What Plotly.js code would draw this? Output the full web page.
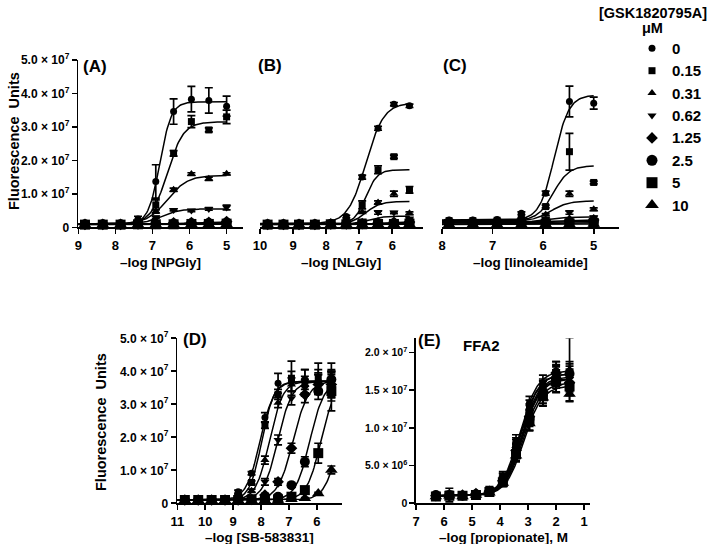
<!DOCTYPE html>
<html><head><meta charset="utf-8">
<script src="https://cdn.plot.ly/plotly-3.0.1.min.js"></script>
<style>html,body{margin:0;padding:0;background:#fff}#chart{width:709px;height:544px}</style>
</head><body><div id="chart"></div>
<script>
// ---------- data ----------
const conc = ['0','0.15','0.31','0.62','1.25','2.5','5','10'];

const xA = [8.82,8.34,7.86,7.39,6.91,6.43,5.95,5.48,5.0];
const yA = [
 [1.0e6,1.0e6,1.1e6,2.5e6,1.37e7,3.46e7,3.83e7,3.79e7,3.62e7],
 [0.9e6,1.0e6,1.0e6,1.6e6,6.7e6,2.21e7,3.16e7,2.91e7,3.3e7],
 [0.9e6,0.9e6,1.0e6,1.4e6,4.8e6,1.12e7,1.59e7,1.45e7,1.6e7],
 [0.9e6,0.9e6,1.0e6,1.2e6,3.0e6,5.2e6,5.0e6,5.5e6,5.9e6],
 [0.9e6,0.9e6,0.9e6,1.0e6,1.2e6,1.3e6,1.4e6,1.5e6,1.7e6],
 [0.9e6,0.9e6,0.9e6,1.0e6,1.0e6,1.1e6,1.2e6,1.3e6,1.4e6],
 [0.8e6,0.8e6,0.8e6,0.9e6,0.9e6,0.9e6,1.0e6,1.0e6,1.1e6],
 [0.8e6,0.8e6,0.8e6,0.8e6,0.8e6,0.8e6,0.9e6,0.9e6,0.9e6]
];
const errA = [
 [1e5,1e5,1e5,8e5,5.0e6,3.8e6,3.8e6,3.8e6,3.0e6],
 [1e5,1e5,1e5,3e5,1.5e6,8e5,1.8e6,6e5,2.0e6],
 [1e5,1e5,1e5,2e5,6e5,5e5,4e5,5e5,3e5],
 [1e5,1e5,1e5,1e5,3e5,3e5,3e5,4e5,7e5],
 [1e5,1e5,1e5,1e5,2e5,2e5,2e5,3e5,3e5],
 [1e5,1e5,1e5,1e5,1e5,2e5,2e5,2e5,3e5],
 [1e5,1e5,1e5,1e5,1e5,1e5,2e5,2e5,2e5],
 [1e5,1e5,1e5,1e5,1e5,1e5,1e5,1e5,2e5]
];
// fit parameters: [bottom, top, pEC50, hill]
const fitA = [
 [1.0e6,3.75e7,6.8,2.8],
 [1.0e6,3.15e7,6.6,2.0],
 [1.0e6,1.55e7,6.6,1.6],
 [1.0e6,5.5e6,6.75,1.8],
 [0.9e6,1.5e6,6.2,1.5],
 [0.9e6,1.3e6,6.2,1.5],
 [0.8e6,1.05e6,6.2,1.5],
 [0.8e6,0.9e6,6.2,1.5]
];

const xB = [9.77,9.29,8.82,8.34,7.86,7.39,6.91,6.43,5.95,5.48];
const yB = [
 [1.1e6,1.1e6,1.1e6,1.2e6,1.4e6,3.2e6,1.5e7,2.96e7,3.68e7,3.63e7],
 [1.0e6,1.0e6,1.0e6,1.0e6,1.2e6,1.8e6,6.7e6,1.72e7,2.11e7,1.12e7],
 [1.0e6,1.0e6,1.0e6,1.0e6,1.1e6,1.5e6,4.5e6,7.4e6,1.0e7,4.2e6],
 [0.9e6,0.9e6,0.9e6,1.0e6,1.0e6,1.2e6,2.0e6,4.4e6,4.4e6,2.6e6],
 [0.9e6,0.9e6,0.9e6,0.9e6,1.0e6,1.0e6,1.1e6,1.3e6,1.5e6,1.6e6],
 [0.9e6,0.9e6,0.9e6,0.9e6,0.9e6,1.0e6,1.0e6,1.1e6,1.2e6,1.3e6],
 [0.8e6,0.8e6,0.8e6,0.8e6,0.9e6,0.9e6,0.9e6,1.0e6,1.0e6,1.1e6],
 [0.8e6,0.8e6,0.8e6,0.8e6,0.8e6,0.8e6,0.8e6,0.9e6,0.9e6,0.9e6]
];
const errB = [
 [1e5,1e5,1e5,1e5,1e5,4e5,6e5,6e5,5e5,5e5],
 [1e5,1e5,1e5,1e5,1e5,2e5,1.2e6,1.2e6,5e5,1.0e6],
 [1e5,1e5,1e5,1e5,1e5,2e5,3e5,5e5,8e5,4e5],
 [1e5,1e5,1e5,1e5,1e5,1e5,2e5,5e5,3e5,2e5],
 [1e5,1e5,1e5,1e5,1e5,1e5,1e5,2e5,2e5,2e5],
 [1e5,1e5,1e5,1e5,1e5,1e5,1e5,1e5,2e5,2e5],
 [1e5,1e5,1e5,1e5,1e5,1e5,1e5,1e5,1e5,2e5],
 [1e5,1e5,1e5,1e5,1e5,1e5,1e5,1e5,1e5,1e5]
];
const fitB = [
 [1.1e6,3.72e7,6.8,1.6],
 [1.0e6,1.72e7,6.8,2.5],
 [1.0e6,7.7e6,6.8,2.0],
 [0.9e6,3.3e6,6.75,2.0],
 [0.9e6,1.6e6,6.3,1.5],
 [0.9e6,1.3e6,6.3,1.5],
 [0.8e6,1.05e6,6.3,1.5],
 [0.8e6,0.9e6,6.3,1.5]
];

const xC = [7.86,7.39,6.91,6.43,5.95,5.48,5.0];
const yC = [
 [2.2e6,2.2e6,2.3e6,4.2e6,1.02e7,3.76e7,3.71e7],
 [2.0e6,2.0e6,2.1e6,2.7e6,6.2e6,2.26e7,1.34e7],
 [1.8e6,1.8e6,1.8e6,2.3e6,3.8e6,1.0e7,5.4e6],
 [1.6e6,1.6e6,1.6e6,1.9e6,2.5e6,4.4e6,3.0e6],
 [1.5e6,1.5e6,1.5e6,1.6e6,1.8e6,2.0e6,2.2e6],
 [1.3e6,1.3e6,1.3e6,1.4e6,1.5e6,1.6e6,1.7e6],
 [1.0e6,1.0e6,1.0e6,1.1e6,1.1e6,1.2e6,1.3e6],
 [0.8e6,0.8e6,0.8e6,0.8e6,0.9e6,0.9e6,1.0e6]
];
const errC = [
 [1e5,1e5,1e5,4e5,6e5,4.6e6,1.8e6],
 [1e5,1e5,1e5,2e5,4e5,5.5e6,4e5],
 [1e5,1e5,1e5,1e5,3e5,8e5,4e5],
 [1e5,1e5,1e5,1e5,2e5,5e5,3e5],
 [1e5,1e5,1e5,1e5,1e5,2e5,2e5],
 [1e5,1e5,1e5,1e5,1e5,1e5,2e5],
 [1e5,1e5,1e5,1e5,1e5,1e5,1e5],
 [1e5,1e5,1e5,1e5,1e5,1e5,1e5]
];
const fitC = [
 [2.2e6,3.95e7,5.78,3.0],
 [2.0e6,1.84e7,5.8,2.8],
 [1.8e6,7.9e6,5.85,2.5],
 [1.6e6,3.1e6,5.9,2.5],
 [1.5e6,2.2e6,5.8,2.0],
 [1.3e6,1.8e6,5.8,2.0],
 [1.0e6,1.4e6,5.8,2.0],
 [0.8e6,1.0e6,5.8,2.0]
];

const xD = [10.73,10.25,9.77,9.29,8.82,8.34,7.86,7.39,6.91,6.43,5.95,5.48];
const yD = [
 [1.2e6,1.2e6,1.1e6,1.3e6,3.5e6,9.1e6,2.6e7,3.64e7,3.7e7,3.75e7,3.7e7,3.65e7],
 [1.1e6,1.2e6,1.2e6,1.2e6,2.3e6,6.3e6,2.37e7,3.3e7,3.79e7,3.7e7,3.8e7,3.7e7],
 [1.0e6,1.1e6,1.1e6,1.1e6,1.5e6,3.8e6,1.31e7,3.05e7,3.6e7,3.6e7,3.65e7,3.6e7],
 [1.0e6,1.0e6,1.0e6,1.0e6,1.2e6,2.0e6,6.5e6,1.92e7,3.18e7,3.5e7,3.6e7,3.5e7],
 [1.0e6,1.0e6,1.0e6,1.0e6,1.0e6,1.2e6,2.5e6,6.5e6,1.67e7,3.3e7,3.6e7,3.6e7],
 [1.0e6,1.0e6,1.0e6,1.0e6,1.0e6,1.0e6,1.2e6,2.0e6,5.5e6,1.26e7,3.4e7,3.75e7],
 [1.0e6,1.0e6,1.0e6,1.0e6,1.0e6,1.0e6,1.0e6,1.2e6,2.0e6,4.0e6,1.52e7,3.4e7],
 [0.9e6,0.9e6,0.9e6,0.9e6,0.9e6,0.9e6,0.9e6,1.0e6,1.2e6,1.5e6,3.0e6,1.01e7]
];
const errD = [
 [1e5,1e5,1e5,1e5,5e5,5e5,1.5e6,3e6,3e6,3e6,3.5e6,3e6],
 [1e5,1e5,1e5,1e5,3e5,5e5,1e6,1.5e6,5.2e6,3.5e6,4.5e6,3.5e6],
 [1e5,1e5,1e5,1e5,3e5,5e5,1.2e6,1.5e6,2e6,2.5e6,3e6,4e6],
 [1e5,1e5,1e5,1e5,2e5,5e5,1e6,1.5e6,2e6,2.5e6,3e6,4e6],
 [1e5,1e5,1e5,1e5,1e5,2e5,5e5,1e6,1.5e6,2.5e6,3e6,4e6],
 [1e5,1e5,1e5,1e5,1e5,1e5,2e5,3e5,5e5,1.5e6,2.5e6,5e6],
 [1e5,1e5,1e5,1e5,1e5,1e5,1e5,2e5,3e5,6e5,3e6,6e6],
 [1e5,1e5,1e5,1e5,1e5,1e5,1e5,1e5,2e5,2e5,3e5,1.2e6]
];
const fitD = [
 [1.0e6,3.7e7,8.03,1.75],
 [1.0e6,3.7e7,7.97,2.0],
 [1.0e6,3.7e7,7.7,1.8],
 [1.0e6,3.7e7,7.4,1.7],
 [1.0e6,3.7e7,6.85,1.6],
 [1.0e6,3.7e7,6.25,1.7],
 [1.0e6,3.7e7,5.85,1.7],
 [1.0e6,3.7e7,5.2,1.7]
];

const xE = [6.29,5.81,5.34,4.86,4.38,3.9,3.43,2.95,2.47,2.0,1.52];
const yE = [
 [1.1e6,1.2e6,1.1e6,1.3e6,1.8e6,3.6e6,8.3e6,1.33e7,1.6e7,1.76e7,1.75e7],
 [1.0e6,1.1e6,1.1e6,1.3e6,1.7e6,3.4e6,7.9e6,1.27e7,1.55e7,1.72e7,1.7e7],
 [1.0e6,1.1e6,1.0e6,1.2e6,1.7e6,3.3e6,7.6e6,1.22e7,1.52e7,1.7e7,1.78e7],
 [0.9e6,1.0e6,1.0e6,1.2e6,1.6e6,3.1e6,7.2e6,1.18e7,1.5e7,1.68e7,1.65e7],
 [1.0e6,1.0e6,1.1e6,1.3e6,1.6e6,3.0e6,7.0e6,1.15e7,1.48e7,1.73e7,1.6e7],
 [1.1e6,1.1e6,1.0e6,1.2e6,1.5e6,2.9e6,6.8e6,1.12e7,1.45e7,1.65e7,1.72e7],
 [0.9e6,1.0e6,1.0e6,1.1e6,1.5e6,2.8e6,6.5e6,1.1e7,1.42e7,1.62e7,1.55e7],
 [0.9e6,1.0e6,0.9e6,1.1e6,1.4e6,2.7e6,6.3e6,1.06e7,1.4e7,1.6e7,1.45e7]
];
const errE = [
 [3e5,4e5,3e5,3e5,4e5,6e5,8e5,9e5,1.0e6,1.2e6,1.3e6],
 [3e5,9e5,3e5,3e5,4e5,6e5,8e5,1.0e6,1.0e6,1.2e6,1.2e6],
 [3e5,4e5,3e5,3e5,4e5,6e5,9e5,1.0e6,1.1e6,1.3e6,4.2e6],
 [3e5,4e5,3e5,3e5,3e5,5e5,8e5,1.2e6,1.2e6,1.3e6,1.3e6],
 [3e5,4e5,3e5,3e5,3e5,5e5,8e5,1.0e6,1.0e6,1.5e6,1.2e6],
 [3e5,4e5,3e5,3e5,3e5,5e5,8e5,1.0e6,1.2e6,1.2e6,1.3e6],
 [3e5,4e5,3e5,3e5,3e5,5e5,8e5,1.3e6,1.3e6,1.5e6,1.2e6],
 [3e5,4e5,3e5,3e5,3e5,5e5,8e5,1.0e6,1.0e6,1.2e6,1.0e6]
];
const fitE = [
 [1.0e6,1.76e7,3.3,1.35],
 [1.0e6,1.72e7,3.28,1.35],
 [1.0e6,1.72e7,3.26,1.35],
 [1.0e6,1.68e7,3.24,1.35],
 [1.0e6,1.66e7,3.22,1.35],
 [1.0e6,1.65e7,3.2,1.35],
 [1.0e6,1.6e7,3.18,1.35],
 [1.0e6,1.56e7,3.15,1.35]
];

const yTickVals7 = [0,1e7,2e7,3e7,4e7,5e7];
const yTickText7 = ['0','1.0 × 10<sup>7</sup>','2.0 × 10<sup>7</sup>','3.0 × 10<sup>7</sup>','4.0 × 10<sup>7</sup>','5.0 × 10<sup>7</sup>'];
const yTickValsE = [0,5e6,1e7,1.5e7,2e7];
const yTickTextE = ['0','5.0 × 10<sup>6</sup>','1.0 × 10<sup>7</sup>','1.5 × 10<sup>7</sup>','2.0 × 10<sup>7</sup>'];

// ---------- styling ----------
const W = 709, H = 544;
const FONT = 'Arial, "Liberation Sans", Helvetica, sans-serif';
const symbols = ['circle','square','triangle-up','triangle-down','diamond','circle','square','triangle-up'];
const msize = [7,7,8,8,9,10,10,11];
const lsize = [7,7,8,8,9,11,11,12];

function hill(p, x){ return p[0] + (p[1]-p[0])/(1+Math.pow(10,(x-p[2])*p[3])); }
function curve(p, x0, x1){
  const xs=[], ys=[]; const n=160;
  for(let i=0;i<=n;i++){ const x = x0 + (x1-x0)*i/n; xs.push(x); ys.push(hill(p,x)); }
  return {xs, ys};
}

const traces = [];
function addPanel(xs, ys, errs, fits, xa, ya, cx0, cx1){
  for(let s=0;s<ys.length;s++){
    const c = curve(fits[s], cx0, cx1);
    traces.push({type:'scatter', mode:'lines', x:c.xs, y:c.ys, xaxis:xa, yaxis:ya,
      line:{color:'#000', width:1.5}, hoverinfo:'skip', showlegend:false, cliponaxis:false});
  }
  for(let s=ys.length-1;s>=0;s--){
    traces.push({type:'scatter', mode:'markers', x:xs, y:ys[s], xaxis:xa, yaxis:ya,
      name:conc[s], showlegend:false, cliponaxis:false,
      marker:{symbol:symbols[s], size:msize[s], color:'#000', line:{width:0}},
      error_y:{type:'data', array:errs[s], visible:true, color:'#000', thickness:1.7, width:4}});
  }
}
addPanel(xA, yA, errA, fitA, 'x', 'y', 9, 5.0);
addPanel(xB, yB, errB, fitB, 'x2', 'y2', 10, 5.48);
addPanel(xC, yC, errC, fitC, 'x3', 'y3', 8, 5.0);
addPanel(xD, yD, errD, fitD, 'x4', 'y4', 11, 5.48);
addPanel(xE, yE, errE, fitE, 'x5', 'y5', 6.29, 1.52);

// legend markers on pixel overlay axis
const legX = 652, legY0 = 48.3, legDY = 22.4;
for(let s=0;s<conc.length;s++){
  traces.push({type:'scatter', mode:'markers', x:[legX], y:[legY0+s*legDY], xaxis:'x6', yaxis:'y6',
    marker:{symbol:symbols[s], size:lsize[s], color:'#000'}, showlegend:false, hoverinfo:'skip', cliponaxis:false});
}

function dx(a,b){ return [a/W, b/W]; }
function dy(top,bottom){ return [1-bottom/H, 1-top/H]; }

const axBase = {showline:true, linecolor:'#000', linewidth:1.6, ticks:'outside', ticklen:5, tickwidth:1.6,
  tickcolor:'#000', showgrid:false, zeroline:false, fixedrange:true,
  tickfont:{family:FONT, size:13, color:'#000', weight:'bold'}};

function xax(domain, range, tickvals, anchor){
  return Object.assign({}, axBase, {domain, range, tickmode:'array', tickvals, ticktext:tickvals.map(String), anchor});
}
function yax(domain, range, vals, text, anchor, size){
  return Object.assign({}, axBase, {domain, range, tickmode:'array', tickvals:vals, ticktext:text, anchor,
    tickfont:{family:FONT, size:size, color:'#000', weight:'bold'}});
}

const annFont = (sz)=>({family:FONT, size:sz, color:'#000', weight:'bold'});
function ann(text, x, y, sz, opts){
  return Object.assign({text, x, y, xref:'x6', yref:'y6', showarrow:false, xanchor:'center', yanchor:'middle',
    font:annFont(sz)}, opts||{});
}

const annotations = [
  ann('(A)', 95, 66, 17), ann('(B)', 270, 65, 17), ann('(C)', 455, 65, 17),
  ann('(D)', 195, 339, 17), ann('(E)', 429, 340, 17), ann('FFA2', 481, 345, 15),
  ann('Fluorescence\u00a0\u00a0Units', 14, 141, 14.5, {textangle:-90}),
  ann('Fluorescence\u00a0\u00a0Units', 101, 422, 14.5, {textangle:-90}),
  ann('–log [NPGly]', 160.8, 262, 13.5),
  ann('–log [NLGly]', 341.3, 262, 13.5),
  ann('–log [linoleamide]', 530.5, 262, 13.5),
  ann('–log [SB-583831]', 259.5, 537, 13.5),
  ann('–log [propionate], M', 503, 537, 13.5),
  ann('[GSK1820795A]', 652.5, 13, 14.5),
  ann('μM', 652.5, 28, 14.5)
];
for(let s=0;s<conc.length;s++){
  annotations.push(ann(conc[s], 670, legY0+s*legDY, 15, {xanchor:'left'}));
}

const layout = {
  width:W, height:H, margin:{l:0,r:0,t:0,b:0}, showlegend:false,
  paper_bgcolor:'#fff', plot_bgcolor:'rgba(0,0,0,0)',
  font:{family:FONT, color:'#000'},
  xaxis: xax(dx(78.3,243.3), [9,4.55], [9,8,7,6,5], 'y'),
  yaxis: yax(dy(60,227.3), [0,5e7], yTickVals7, yTickText7, 'x', 12),
  xaxis2: xax(dx(260,422.7), [10,5.08], [10,9,8,7,6], 'y2'),
  yaxis2: {domain:dy(60,227.3), range:[0,5e7], visible:false, anchor:'x2', fixedrange:true},
  xaxis3: xax(dx(442,619), [8,4.5], [8,7,6,5], 'y3'),
  yaxis3: {domain:dy(60,227.3), range:[0,5e7], visible:false, anchor:'x3', fixedrange:true},
  xaxis4: xax(dx(177.3,341.7), [11,5.11], [11,10,9,8,7,6], 'y4'),
  yaxis4: yax(dy(338.3,503.3), [0,5e7], yTickVals7, yTickText7, 'x4', 12),
  xaxis5: xax(dx(416,590), [7,0.79], [7,6,5,4,3,2,1], 'y5'),
  yaxis5: yax(dy(338.3,503.3), [0,2.19e7], yTickValsE, yTickTextE, 'x5', 10.5),
  xaxis6: {domain:[0,1], range:[0,W], visible:false, anchor:'y6', fixedrange:true},
  yaxis6: {domain:[0,1], range:[H,0], visible:false, anchor:'x6', fixedrange:true},
  annotations
};

Plotly.newPlot('chart', traces, layout, {displayModeBar:false, staticPlot:true});
</script>
</body></html>
